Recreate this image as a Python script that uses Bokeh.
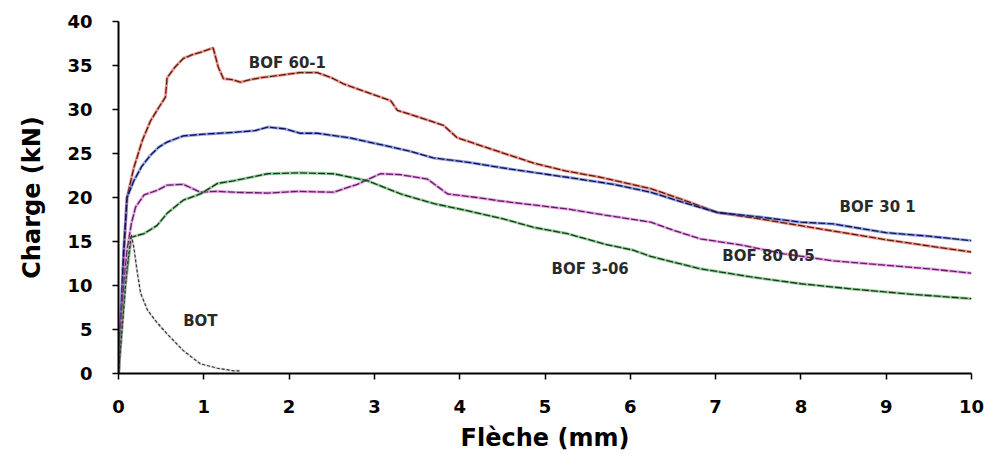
from bokeh.plotting import figure
from bokeh.models import Range1d, FixedTicker
from bokeh.core.properties import value
from bokeh.embed import file_html
from bokeh.resources import INLINE

# ---- data ----
bof60_1_x = [0, 0.03, 0.06, 0.1, 0.18, 0.28, 0.375, 0.47, 0.55, 0.57, 0.66, 0.76, 0.86, 0.96, 1.05, 1.11,
             1.17, 1.23, 1.33, 1.43, 1.55, 1.66, 1.9, 2.13, 2.33, 2.5, 2.64, 2.9, 3.19, 3.27, 3.5, 3.81,
             3.97, 4.4, 4.87, 5.25, 5.65, 6.24, 6.6, 7.02, 7.5, 8.0, 8.5, 9.0, 9.5, 10.0]
bof60_1_y = [0, 6, 13, 20, 23.4, 26.5, 28.7, 30.2, 31.4, 33.6, 34.8, 35.8, 36.2, 36.5, 36.8, 37.0,
             34.8, 33.5, 33.4, 33.1, 33.4, 33.6, 33.9, 34.2, 34.2, 33.6, 32.9, 32.0, 31.0, 29.9, 29.2, 28.2,
             26.8, 25.4, 23.9, 23.0, 22.3, 21.0, 19.8, 18.3, 17.6, 16.8, 16.0, 15.2, 14.5, 13.8]

bof30_1_x = [0, 0.03, 0.06, 0.1, 0.18, 0.27, 0.375, 0.47, 0.57, 0.76, 1.0, 1.35, 1.6, 1.75, 1.95, 2.13,
             2.33, 2.7, 3.03, 3.4, 3.69, 4.1, 4.48, 4.9, 5.26, 5.8, 6.24, 6.6, 7.02, 7.5, 8.0, 8.38, 9.0,
             9.5, 10.0]
bof30_1_y = [0, 7, 14, 20, 21.9, 23.5, 24.8, 25.7, 26.3, 27.0, 27.2, 27.4, 27.6, 28.0, 27.8, 27.3,
             27.3, 26.8, 26.1, 25.3, 24.5, 24.0, 23.4, 22.8, 22.3, 21.5, 20.6, 19.5, 18.3, 17.8, 17.2, 17.0,
             16.0, 15.6, 15.1]

bof80_05_x = [0, 0.03, 0.06, 0.1, 0.15, 0.2, 0.3, 0.45, 0.57, 0.76, 0.96, 1.15, 1.35, 1.75, 2.1, 2.52,
              2.8, 3.07, 3.3, 3.62, 3.86, 4.2, 4.48, 5.26, 5.7, 6.24, 6.5, 6.82, 7.3, 7.8, 8.38, 9.0, 9.5,
              10.0]
bof80_05_y = [0, 5, 10, 14, 17, 18.9, 20.3, 20.8, 21.4, 21.5, 20.6, 20.7, 20.6, 20.5, 20.7, 20.6,
              21.5, 22.7, 22.6, 22.1, 20.4, 20.0, 19.6, 18.7, 18.0, 17.2, 16.3, 15.3, 14.6, 13.6, 12.8, 12.3,
              11.9, 11.4]

bof3_06_x = [0, 0.04, 0.08, 0.15, 0.3, 0.45, 0.57, 0.76, 0.96, 1.16, 1.35, 1.75, 2.13, 2.52, 2.92, 3.31,
             3.7, 4.09, 4.5, 4.87, 5.26, 5.7, 6.04, 6.24, 6.82, 7.4, 8.0, 8.6, 9.3, 10.0]
bof3_06_y = [0, 5, 10, 15.5, 15.9, 16.8, 18.2, 19.7, 20.4, 21.6, 21.9, 22.7, 22.8, 22.7, 21.9, 20.4,
             19.3, 18.5, 17.6, 16.6, 15.9, 14.7, 14.0, 13.3, 11.9, 11.0, 10.2, 9.6, 9.0, 8.5]

bot_x = [0, 0.05, 0.1, 0.15, 0.18, 0.22, 0.26, 0.34, 0.45, 0.57, 0.76, 0.96, 1.16, 1.35, 1.42]
bot_y = [0, 6, 12, 15.8, 14.3, 11.5, 9.1, 7.2, 5.8, 4.5, 2.6, 1.1, 0.6, 0.3, 0.3]

label_text = ["BOF 60-1", "BOF 30 1", "BOF 80 0.5", "BOF 3-06", "BOT"]
label_x = [1.98, 8.9, 7.62, 5.53, 0.96]
label_y = [35.3, 18.9, 13.3, 11.9, 6.0]

x_ticks = [0, 1, 2, 3, 4, 5, 6, 7, 8, 9, 10]
y_ticks = [0, 5, 10, 15, 20, 25, 30, 35, 40]

# ---- figure ----
p = figure(width=987, height=457, output_backend="svg", toolbar_location=None,
           x_range=Range1d(0, 10), y_range=Range1d(0, 40),
           min_border_left=118, min_border_right=16, min_border_top=21, min_border_bottom=84)
p.outline_line_color = None
p.background_fill_color = "white"
p.border_fill_color = "white"
p.xgrid.visible = False
p.ygrid.visible = False

FONT = "DejaVu Sans"
for ax in (p.xaxis[0], p.yaxis[0]):
    ax.axis_line_color = "black"
    ax.axis_line_width = 2
    ax.major_tick_line_color = "black"
    ax.major_tick_line_width = 1.5
    ax.major_tick_out = 6
    ax.major_tick_in = 0
    ax.minor_tick_line_color = None
    ax.major_label_text_font = FONT
    ax.major_label_text_font_style = "bold"
    ax.major_label_text_font_size = "18px"
    ax.major_label_text_color = "black"
    ax.axis_label_text_font = FONT
    ax.axis_label_text_font_style = "bold"
    ax.axis_label_text_font_size = "24px"
    ax.axis_label_text_color = "black"

p.xaxis.ticker = FixedTicker(ticks=x_ticks)
p.yaxis.ticker = FixedTicker(ticks=y_ticks)
p.xaxis.axis_label = "Flèche (mm)"
p.yaxis.axis_label = "Charge (kN)"
p.xaxis.major_label_standoff = 20
p.xaxis.axis_label_standoff = 8
p.yaxis.major_label_standoff = 20
p.yaxis.axis_label_standoff = 18

series = [
    (bof60_1_x, bof60_1_y, "#e04a3a", "#5a1c12"),
    (bof30_1_x, bof30_1_y, "#3c5ad0", "#12124a"),
    (bof80_05_x, bof80_05_y, "#d35ad3", "#5e1f5e"),
    (bof3_06_x, bof3_06_y, "#3fa44a", "#163a18"),
]
for xs, ys, halo, dark in series:
    p.line(xs, ys, line_color=halo, line_width=3, line_alpha=0.55)
    p.line(xs, ys, line_color=dark, line_width=1.3, line_dash="7 2")

p.line(bot_x, bot_y, line_color="#bbbbbb", line_width=2.5, line_alpha=0.5)
p.line(bot_x, bot_y, line_color="#333333", line_width=1.2, line_dash="3 2")

p.text(x=label_x, y=label_y, text=label_text, text_font=value(FONT), text_font_style="bold",
       text_font_size="15px", text_color="#2a2a2a", text_align="center", text_baseline="middle")

open("out.html", "w").write(file_html(p, INLINE))
